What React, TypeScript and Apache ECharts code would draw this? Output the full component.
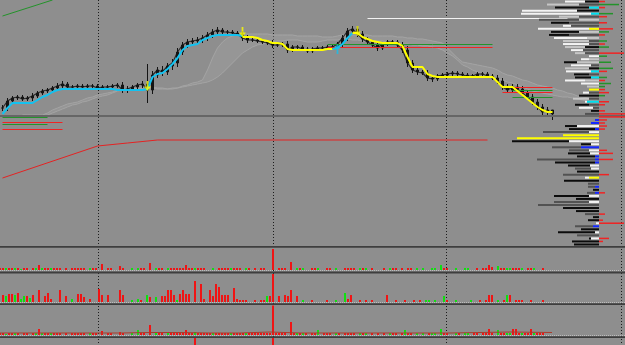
import { useEffect, useRef } from "react";
import * as echarts from "echarts";

// ---------- main window (price) : one slot every 5 px ----------
const closePrice = [
  1.2892, 1.2899, 1.2902, 1.2903, 1.2901, 1.2902, 1.2904, 1.2907, 1.2909, 1.2910,
  1.2912, 1.2914, 1.2916, 1.2913, 1.2913, 1.2914, 1.2913, 1.2914, 1.2914, 1.2912,
  1.2913, 1.2913, 1.2914, 1.2915, 1.2910, 1.2911, 1.2913, 1.2915, 1.2916, 1.2910,
  1.2925, 1.2930, 1.2928, 1.2934, 1.2937, 1.2948, 1.2955, 1.2958, 1.2959, 1.2960,
  1.2962, 1.2965, 1.2968, 1.2970, 1.2968, 1.2968, 1.2967, 1.2966, 1.2962, 1.2960,
  1.2960, 1.2959, 1.2958, 1.2957, 1.2955, 1.2955, 1.2956, 1.2950, 1.2953, 1.2953,
  1.2951, 1.2949, 1.2951, 1.2952, 1.2952, 1.2953, 1.2953, 1.2956, 1.2962, 1.2969,
  1.2971, 1.2966, 1.2961, 1.2958, 1.2955, 1.2952, 1.2956, 1.2958, 1.2958, 1.2955,
  1.2950, 1.2937, 1.2930, 1.2928, 1.2927, 1.2922, 1.2921, 1.2924, 1.2925, 1.2926,
  1.2927, 1.2926, 1.2925, 1.2924, 1.2924, 1.2926, 1.2926, 1.2924, 1.2922, 1.2919,
  1.2913, 1.2910, 1.2913, 1.2911, 1.2907, 1.2903, 1.2898, 1.2893, 1.2888, 1.2890, 1.2886,
];
// wick length beyond the body, in pips, per slot
const wickPips = [
  3, 3, 2, 2, 2, 2, 3, 2, 2, 2,
  2, 3, 3, 2, 2, 2, 2, 2, 2, 2,
  2, 2, 2, 2, 3, 3, 2, 2, 3, 0,
  4, 3, 4, 3, 4, 4, 3, 3, 3, 3,
  3, 3, 3, 3, 2, 2, 2, 2, 3, 3,
  2, 2, 2, 2, 3, 2, 2, 3, 2, 2,
  2, 2, 2, 2, 2, 2, 2, 2, 3, 3,
  3, 3, 3, 2, 2, 3, 2, 2, 2, 2,
  3, 4, 3, 3, 2, 3, 3, 2, 2, 2,
  2, 2, 2, 2, 2, 2, 2, 2, 2, 3,
  3, 3, 3, 3, 3, 3, 3, 3, 3, 3, 0,
];
const wickSlot = [29, 110];
const wickHigh = [1.2936, 1.2889];
const wickLow = [1.2897, 1.2880];

const cyanTrailAStart = 0;
const cyanTrailA = [
  1.2886, 1.2892, 1.2897, 1.2897, 1.2897, 1.2897, 1.2897, 1.2900, 1.2903, 1.2905,
  1.2908, 1.2910, 1.2911, 1.2911, 1.2911, 1.2911, 1.2911, 1.2911, 1.2911, 1.2911,
  1.2911, 1.2911, 1.2911, 1.2910, 1.2910, 1.2910, 1.2910, 1.2910, 1.2910, 1.2911,
  1.2923, 1.2926, 1.2927, 1.2931, 1.2936, 1.2942, 1.2950, 1.2954, 1.2955, 1.2956,
  1.2960, 1.2962, 1.2964, 1.2965, 1.2965, 1.2965, 1.2965, 1.2965, 1.2964,
];
const yellowTrailAStart = 48;
const yellowTrailA = [
  1.2963, 1.2963, 1.2963, 1.2962, 1.2960, 1.2959, 1.2957, 1.2957, 1.2956, 1.2951,
  1.2950, 1.2950, 1.2950, 1.2950, 1.2950, 1.2950, 1.2950, 1.2951, 1.2951,
];
const cyanTrailBStart = 66;
const cyanTrailB = [1.2951, 1.2952, 1.2956, 1.2962, 1.2967];
const yellowTrailBStart = 70;
const yellowTrailB = [
  1.2967, 1.2967, 1.2963, 1.2961, 1.2959, 1.2958, 1.2957, 1.2957, 1.2957, 1.2957,
  1.2954, 1.2943, 1.2933, 1.2933, 1.2933, 1.2926, 1.2924, 1.2923, 1.2923, 1.2923,
  1.2923, 1.2923, 1.2923, 1.2923, 1.2923, 1.2923, 1.2923, 1.2923, 1.2923, 1.2918,
  1.2913, 1.2913, 1.2913, 1.2909, 1.2905, 1.2901, 1.2897, 1.2893, 1.2890, 1.2888, 1.2888,
];

const cloudStart = 4;
const spanA = [
  1.2885, 1.2885, 1.2885, 1.2885, 1.2885,
  1.2887, 1.2890, 1.2892, 1.2894, 1.2896, 1.2897, 1.2898, 1.2900, 1.2902, 1.2903, 1.2905,
  1.2906, 1.2907, 1.2908, 1.2910, 1.2910, 1.2911, 1.2911, 1.2912, 1.2912, 1.2913,
  1.2913, 1.2912, 1.2912, 1.2911, 1.2912, 1.2912, 1.2914, 1.2915, 1.2917, 1.2918,
  1.2920, 1.2930, 1.2942, 1.2952, 1.2958, 1.2962, 1.2964, 1.2965, 1.2966, 1.2966,
  1.2966, 1.2966, 1.2966, 1.2966, 1.2965, 1.2965, 1.2965, 1.2965, 1.2965, 1.2964,
  1.2964, 1.2964, 1.2964, 1.2964, 1.2963, 1.2963, 1.2963, 1.2964, 1.2965, 1.2965,
  1.2965, 1.2965, 1.2965, 1.2965, 1.2964, 1.2964, 1.2964, 1.2964, 1.2964, 1.2963,
  1.2963, 1.2962, 1.2962, 1.2961, 1.2961, 1.2960, 1.2959, 1.2958, 1.2957, 1.2952,
  1.2947, 1.2942, 1.2938, 1.2937, 1.2936, 1.2935, 1.2934, 1.2933, 1.2932, 1.2930,
  1.2927, 1.2925, 1.2924, 1.2922, 1.2920, 1.2919, 1.2917, 1.2915, 1.2914, 1.2913,
  1.2912, 1.2910, 1.2909, 1.2907, 1.2906, 1.2904, 1.2903, 1.2902, 1.2901, 1.2900,
];
const spanB = [
  1.2884, 1.2884, 1.2884, 1.2884, 1.2884,
  1.2885, 1.2887, 1.2889, 1.2891, 1.2893, 1.2895, 1.2896, 1.2898, 1.2899, 1.2901, 1.2903,
  1.2904, 1.2905, 1.2907, 1.2909, 1.2910, 1.2910, 1.2911, 1.2911, 1.2912, 1.2912,
  1.2912, 1.2911, 1.2911, 1.2911, 1.2911, 1.2912, 1.2913, 1.2914, 1.2915, 1.2916,
  1.2917, 1.2918, 1.2920, 1.2923, 1.2927, 1.2932, 1.2937, 1.2942, 1.2947, 1.2950,
  1.2953, 1.2955, 1.2956, 1.2957, 1.2958, 1.2959, 1.2959, 1.2960, 1.2960, 1.2960,
  1.2959, 1.2958, 1.2958, 1.2958, 1.2959, 1.2960, 1.2960, 1.2960, 1.2961, 1.2961,
  1.2960, 1.2960, 1.2959, 1.2959, 1.2959, 1.2959, 1.2959, 1.2958, 1.2958, 1.2957,
  1.2956, 1.2956, 1.2955, 1.2955, 1.2954, 1.2954, 1.2953, 1.2952, 1.2950, 1.2947,
  1.2944, 1.2940, 1.2935, 1.2933, 1.2930, 1.2928, 1.2926, 1.2924, 1.2922, 1.2921,
  1.2920, 1.2918, 1.2917, 1.2915, 1.2913, 1.2911, 1.2909, 1.2908, 1.2907, 1.2906,
  1.2905, 1.2904, 1.2903, 1.2903, 1.2902, 1.2901, 1.2900, 1.2899, 1.2899, 1.2898,
];

const redIndSlot = [0, 19, 25, 31, 97];
const redIndValue = [1.2822, 1.2854, 1.2857, 1.2860, 1.2860];

const levelStart = [65, 86, 65, 86, 100, 102, 100, 102, 0, 0, 0, 0, 73, 0];
const levelEnd = [86, 98, 86, 98, 110, 110, 110, 110, 9, 12, 9, 12, 113, 10];
const levelFrom = [1.2956, 1.2956, 1.2953, 1.2953, 1.2913, 1.2910, 1.2908, 1.2903, 1.2883, 1.2878, 1.2876, 1.2871, 1.2982, 1.2984];
const levelTo = [1.2956, 1.2956, 1.2953, 1.2953, 1.2913, 1.2910, 1.2908, 1.2903, 1.2883, 1.2878, 1.2876, 1.2871, 1.2982, 1.3000];
const levelColor = "ggrrrgrggrgrwg";
const baseLevel = 1.2884;

const yellowArrowSlot = [29, 48, 71];
const yellowArrowPrice = [1.2914, 1.2968, 1.2969];
const cyanArrowSlot = [67];
const cyanArrowPrice = [1.2951];

// ---------- volume profile (81 rows, top to bottom) ----------
const vpTotal = [
  34, 52, 44, 77, 78, 40, 60, 48, 36, 61,
  48, 50, 45, 36, 36, 34, 28, 24, 10, 18,
  35, 28, 34, 33, 25, 24, 34, 18, 12, 10,
  16, 20, 26, 14, 24, 20, 8, 14, 0, 4,
  8, 34, 30, 56, 36, 82, 87, 18, 47, 30,
  31, 22, 62, 44, 31, 24, 22, 36, 14, 35,
  11, 11, 6, 12, 45, 23, 45, 61, 36, 23,
  14, 6, 11, 3, 24, 18, 41, 22, 10, 27, 25,
];
const vpInner = [
  14, 20, 10, 22, 8, 20, 20, 30, 28, 10,
  20, 30, 12, 10, 10, 14, 16, 14, 0, 10,
  22, 8, 10, 8, 10, 8, 14, 0, 0, 0,
  10, 0, 10, 12, 10, 6, 0, 0, 0, 0,
  0, 22, 4, 10, 0, 0, 30, 8, 18, 10,
  9, 4, 4, 4, 9, 8, 0, 0, 10, 0,
  0, 4, 0, 4, 10, 0, 10, 0, 0, 0,
  0, 0, 0, 0, 6, 0, 4, 0, 8, 0, 0,
];
const vpOuterColor = "wlkwwldkww kkwlwlwlww kwlwkkwwly wklwkwkd-b bkkdyykkdd kkdkkdkdwk ddkdkkddkk dkkwdkkdkk k";
const vpInnerColor = "kdckcdlddy ldlddkdd-l ldkcdcl--- d-dcdd---- -wbw--wwbw wbbbww--y- -b-bw-w--- ----b-w-w- -";
const vpRight = [
  6, 20, 6, 0, 14, 8, 0, 8, 0, 14,
  10, 6, 0, 8, 6, 10, 0, 25, 8, 0,
  12, 0, 14, 8, 0, 8, 6, 12, 6, 6,
  10, 6, 0, 10, 6, 0, 6, 26, 26, 8,
  6, 8, 6, 0, 0, 0, 0, 0, 0, 8,
  14, 0, 14, 0, 0, 0, 0, 10, 0, 0,
  0, 0, 0, 6, 0, 0, 0, 0, 0, 0,
  6, 0, 4, 25, 0, 0, 0, 0, 10, 4, 0,
];
const vpRightColor = "rgr-gr-r-r gr-grg-rg- g-gr-grggr rg-rr-rrrr rrr------r r-r----r-- ---r------ r-rr----rr -";

// ---------- sub windows : one bar every 3 px, negative = green bar ----------
const panel1 = [
  2, 2, -2, 2, 2, -2, 2, -1, 2, 2, 0, 2, -2, 5, -2, 2, 2, -2, 2, 2,
  2, 0, 2, 0, 2, 2, 2, 2, 2, 0, -2, 2, 2, 0, 6, 0, 2, 2, 0, 0,
  4, 2, 0, 0, -2, 0, -2, 2, 2, 0, 7, 0, -2, 2, 2, 0, -2, 2, 2, 2,
  2, 2, 5, 2, 2, -2, 2, 2, 2, 0, 0, -2, 0, 2, 2, 2, 2, -2, 2, 2,
  2, 0, -2, 2, 0, 2, 0, 2, 2, 0, 0, 99, 0, 2, 2, 2, 0, 8, 0, -2,
  2, -2, 0, 0, 2, 2, -2, 0, 0, 2, 2, 0, -2, 0, 0, 2, 2, 2, 2, 0,
  -2, 2, -2, 0, 2, 0, 0, 0, 2, 0, -2, 2, 2, 0, 2, 0, 2, 2, 0, -2,
  0, -2, 0, 0, -2, -2, 0, -5, 2, 2, 0, 0, -2, 0, 0, -2, -2, 0, 0, 2,
  0, 2, 2, 5, 3, 0, -4, 2, 2, -2, -2, 2, 2, 2, -2, 0, 2, 2, -2, 0, 0, 2, 0, 0, 0,
];
const panel2 = [
  0, 7, -6, 8, 8, -7, 9, -3, -6, 6, -4, 7, 0, 12, 0, 6, 9, 3, 0, 0,
  12, 0, 6, 0, -3, 0, 8, 8, 5, 0, 3, 0, 0, 13, 7, 0, 7, 0, 0, 0,
  12, 7, 0, 0, -2, 0, -3, 2, 0, -7, 5, 0, -5, 0, 6, 6, 12, 12, 7, -2,
  8, 12, 8, 8, 0, 21, 0, 18, 3, 0, 12, 6, 18, 15, 7, 7, 7, 0, 14, 3,
  2, 2, 2, 0, 0, 2, 0, 2, 2, -6, 6, 99, 0, 6, 0, 7, 6, 12, 0, 6,
  0, -2, 0, 0, 2, 0, 0, 0, 0, 2, 0, 0, -2, 0, 0, -9, 3, 7, 0, 0,
  2, 0, 2, 0, 2, 0, 0, 0, 0, 7, 0, 0, 2, 0, 0, 2, 0, 0, 2, 0,
  2, 0, -2, -2, 0, -2, 0, 0, -6, 2, 0, 0, -2, 0, 0, 0, 0, -2, 0, 0,
  2, 0, 2, 7, 7, 0, -2, 0, 2, -7, 7, 0, 2, 2, 2, 0, 0, 2, 0, 0, 0, 2, 0, 0, 0,
];
const panel3 = [
  2, 2, -1, 2, 2, -2, 2, 0, 2, 2, 0, 2, -2, 6, -2, 2, 2, -2, 2, 2,
  2, 0, 2, 0, 2, 2, 2, 2, 2, 0, -2, 2, 2, 0, 4, 0, 2, 2, 0, 0,
  3, 2, 0, 0, -2, 0, -5, 2, 2, 0, 10, 0, -2, 2, 2, 0, -2, 2, 2, 2,
  2, 2, 5, 2, 2, -3, 2, 2, 2, 2, 2, -2, 2, 2, 2, 2, 2, -2, 2, 2,
  2, 2, -2, 2, 2, 2, 2, 2, 2, 2, 2, 99, 2, 2, 2, 2, 0, 13, 2, -2,
  2, -2, 2, 0, 2, 2, -5, 0, 2, 2, 2, 0, -2, 2, 0, 2, 2, 2, 2, 0,
  -2, 2, -2, 0, 2, 0, 2, 0, 2, 0, -2, 2, 2, 0, 2, -5, 2, 2, 0, -2,
  0, -2, 0, 2, -2, -2, 0, -6, 2, 2, 0, 0, -2, 2, 0, -2, -2, 0, 2, 2,
  0, 2, 2, 6, 2, 0, -5, 2, 2, -2, -2, 6, 6, 2, -2, 2, 2, 6, -2, 2, 2, 2, 0, 0, 0,
];
const panel3MaBar = [0, 10, 20, 30, 40, 50, 60, 70, 80, 90, 100, 110, 120, 130, 140, 150, 160, 170, 184];
const panel3Ma = [2, 2, 2, 2, 2, 2.5, 2.5, 2, 2, 3, 2, 2, 2, 2, 2, 2, 2.5, 3, 2.5];
const panel4Bar = [65, 91];
const panel4Value = [40, 40];

const PAL: Record<string, string> = {
  w: "#f3f3f3", l: "#c6c6c6", d: "#525252", k: "#0c0c0c", c: "#00e0f0",
  y: "#ffff00", b: "#1428ff", r: "#f02424", g: "#23932a",
};
const BAR_RED = "#f01414";
const BAR_GREEN = "#10e010";
const SLOTS = 125;
const PIP = 0.0001;

function chars(s: string): string[] {
  return s.replace(/\s+/g, "").split("");
}
function place(start: number, vals: number[]) {
  const a: (number | null)[] = new Array(SLOTS).fill(null);
  vals.forEach((v, i) => {
    a[start + i] = v;
  });
  return a;
}
function barsOf(arr: number[]) {
  const out: any[] = [];
  arr.forEach((v, i) => {
    if (v !== 0) out.push({ value: [i, Math.abs(v)], itemStyle: { color: v < 0 ? BAR_GREEN : BAR_RED } });
  });
  return out;
}

function buildOption() {
  const slots = Array.from({ length: SLOTS }, (_, i) => String(i));
  const rows = vpTotal.map((_, i) => String(i));
  const A = place(cloudStart, spanA);
  const B = place(cloudStart, spanB);
  const cloudBase = A.map((a, i) => (a == null || B[i] == null ? null : Math.min(a, B[i] as number)));
  const cloudThick = A.map((a, i) => (a == null || B[i] == null ? null : Math.abs(a - (B[i] as number))));

  const candles = closePrice.map((c, k) => {
    const o = k === 0 ? c : closePrice[k - 1];
    let lo = Math.min(o, c) - wickPips[k] * PIP;
    let hi = Math.max(o, c) + wickPips[k] * PIP;
    const w = wickSlot.indexOf(k);
    if (w >= 0) {
      lo = wickLow[w];
      hi = wickHigh[w];
    }
    return [o, c, lo, hi];
  });

  const lvlCol = chars(levelColor);
  const markLines = levelFrom.map((p, i) => [
    { coord: [levelStart[i], p], lineStyle: { color: PAL[lvlCol[i]], width: 1, type: "solid" } },
    { coord: [levelEnd[i], levelTo[i]] },
  ]);

  const oc = chars(vpOuterColor);
  const ic = chars(vpInnerColor);
  const rc = chars(vpRightColor);

  const arrowDown = "path://M3,0 L5,0 L5,6 L8,6 L4,11 L0,6 L3,6 Z";

  const trailLine = (data: any[], color: string) => ({
    type: "line", xAxisIndex: 0, yAxisIndex: 0, data, showSymbol: false, symbol: "none",
    lineStyle: { color, width: 2 }, z: 6, silent: true,
  });

  const subX = (g: number) => ({ gridIndex: g, type: "value", min: 0, max: 625 / 3, show: false });

  return {
    animation: false,
    backgroundColor: "#8e8e8e",
    grid: [
      { left: 0, top: 0, width: 625, height: 246 },
      { left: 0, top: 0, width: 599, height: 246 },
      { left: 599, top: 0, width: 26, height: 246 },
      { left: 0, top: 249, width: 625, height: 21 },
      { left: 0, top: 274, width: 625, height: 28 },
      { left: 0, top: 305.5, width: 625, height: 29.5 },
      { left: 0, top: 338, width: 625, height: 40 },
    ],
    xAxis: [
      { gridIndex: 0, type: "category", data: slots, show: false },
      { gridIndex: 1, type: "value", min: 0, max: 599, inverse: true, show: false },
      { gridIndex: 2, type: "value", min: 0, max: 26, show: false },
      subX(3), subX(4), subX(5), subX(6),
    ],
    yAxis: [
      { gridIndex: 0, type: "value", min: 1.2754, max: 1.3, show: false },
      { gridIndex: 1, type: "category", data: rows, inverse: true, show: false },
      { gridIndex: 2, type: "category", data: rows, inverse: true, show: false },
      { gridIndex: 3, type: "value", min: 0, max: 21, show: false },
      { gridIndex: 4, type: "value", min: 0, max: 28, show: false },
      { gridIndex: 5, type: "value", min: 0, max: 29.5, show: false },
      { gridIndex: 6, type: "value", min: 0, max: 40, show: false },
    ],
    series: [
      {
        type: "line", xAxisIndex: 0, yAxisIndex: 0, data: cloudBase, stack: "cloud",
        symbol: "none", lineStyle: { opacity: 0 }, silent: true, z: 1,
      },
      {
        type: "line", xAxisIndex: 0, yAxisIndex: 0, data: cloudThick, stack: "cloud",
        symbol: "none", lineStyle: { opacity: 0 }, areaStyle: { color: "rgba(168,168,168,0.45)" }, silent: true, z: 1,
      },
      {
        type: "line", xAxisIndex: 0, yAxisIndex: 0, data: A, symbol: "none",
        lineStyle: { color: "#a4a4a4", width: 1 }, silent: true, z: 1,
      },
      {
        type: "line", xAxisIndex: 0, yAxisIndex: 0, data: B, symbol: "none",
        lineStyle: { color: "#a4a4a4", width: 1 }, silent: true, z: 1,
      },
      {
        type: "line", xAxisIndex: 0, yAxisIndex: 0,
        data: redIndSlot.map((s, i) => [s, redIndValue[i]]), symbol: "none",
        lineStyle: { color: "#e42222", width: 1 }, silent: true, z: 2,
      },
      {
        type: "candlestick", xAxisIndex: 0, yAxisIndex: 0, data: candles, barWidth: 3, z: 4,
        itemStyle: { color: "#141414", color0: "#141414", borderColor: "#141414", borderColor0: "#141414", borderWidth: 1 },
        silent: true,
      },
      {
        type: "line", xAxisIndex: 0, yAxisIndex: 0, data: closePrice, symbol: "none",
        lineStyle: { color: "#2a2a2a", width: 1.2 }, silent: true, z: 4,
        markLine: {
          silent: true, symbol: ["none", "none"], label: { show: false }, animation: false, precision: 5,
          data: [
            { yAxis: baseLevel, lineStyle: { color: "#666666", width: 2, type: "solid" } },
            ...markLines,
          ],
        },
      },
      trailLine(place(cyanTrailAStart, cyanTrailA), "#13c2f0"),
      trailLine(place(yellowTrailAStart, yellowTrailA), "#ffff00"),
      trailLine(place(cyanTrailBStart, cyanTrailB), "#13c2f0"),
      trailLine(place(yellowTrailBStart, yellowTrailB), "#ffff00"),
      {
        type: "scatter", xAxisIndex: 0, yAxisIndex: 0, symbol: arrowDown, symbolSize: [7, 10],
        data: yellowArrowSlot.map((s, i) => [s, yellowArrowPrice[i]]),
        itemStyle: { color: "#ffff00" }, z: 7, silent: true,
      },
      {
        type: "scatter", xAxisIndex: 0, yAxisIndex: 0, symbol: arrowDown, symbolSize: [7, 10], symbolRotate: 180,
        data: cyanArrowSlot.map((s, i) => [s, cyanArrowPrice[i]]),
        itemStyle: { color: "#13c2f0" }, z: 7, silent: true,
      },
      // volume profile
      {
        type: "bar", xAxisIndex: 1, yAxisIndex: 1, stack: "vp", barWidth: 2, silent: true, z: 8,
        data: vpInner.map((v, i) => ({ value: v, itemStyle: { color: PAL[ic[i]] || "rgba(0,0,0,0)" } })),
      },
      {
        type: "bar", xAxisIndex: 1, yAxisIndex: 1, stack: "vp", barWidth: 2, silent: true, z: 8,
        data: vpTotal.map((t, i) => ({ value: t - vpInner[i], itemStyle: { color: PAL[oc[i]] || "rgba(0,0,0,0)" } })),
      },
      {
        type: "bar", xAxisIndex: 2, yAxisIndex: 2, barWidth: 1.5, silent: true, z: 8,
        data: vpRight.map((v, i) => ({ value: v, itemStyle: { color: PAL[rc[i]] || "rgba(0,0,0,0)" } })),
      },
      // sub windows
      { type: "bar", xAxisIndex: 3, yAxisIndex: 3, barWidth: 2, data: barsOf(panel1), silent: true },
      { type: "bar", xAxisIndex: 4, yAxisIndex: 4, barWidth: 2, data: barsOf(panel2), silent: true },
      { type: "bar", xAxisIndex: 5, yAxisIndex: 5, barWidth: 2, data: barsOf(panel3), silent: true },
      {
        type: "line", xAxisIndex: 5, yAxisIndex: 5, symbol: "none", silent: true,
        data: panel3MaBar.map((b, i) => [b, panel3Ma[i]]), lineStyle: { color: "#a83c2c", width: 1 },
      },
      {
        type: "bar", xAxisIndex: 6, yAxisIndex: 6, barWidth: 2, silent: true,
        data: panel4Bar.map((b, i) => [b, panel4Value[i]]), itemStyle: { color: BAR_RED },
      },
    ],
    graphic: [
      ...[98.5, 273.5, 446.5, 621.5].map((x) => ({
        type: "line", silent: true, z: 1,
        shape: { x1: x, y1: 0, x2: x, y2: 345 },
        style: { stroke: "#1c1c1c", lineWidth: 1, lineDash: [1, 2] },
      })),
      ...[270.5, 302.5, 335.5].map((y) => ({
        type: "line", silent: true, z: 50,
        shape: { x1: 0, y1: y, x2: 625, y2: y },
        style: { stroke: "#bdbdbd", lineWidth: 1, lineDash: [1, 1] },
      })),
      ...[246, 271.6, 303.2, 336.2].map((y) => ({
        type: "rect", silent: true, z: 50,
        shape: { x: 0, y, width: 625, height: 1.8 },
        style: { fill: "#3e3e3e" },
      })),
    ],
  };
}

export default function App() {
  const ref = useRef<HTMLDivElement>(null);
  useEffect(() => {
    if (!ref.current) return;
    const chart = echarts.init(ref.current, undefined, { renderer: "svg" });
    chart.setOption(buildOption() as any);
    return () => chart.dispose();
  }, []);
  return <div ref={ref} style={{ position: "fixed", left: 0, top: 0, width: 625, height: 345 }} />;
}
